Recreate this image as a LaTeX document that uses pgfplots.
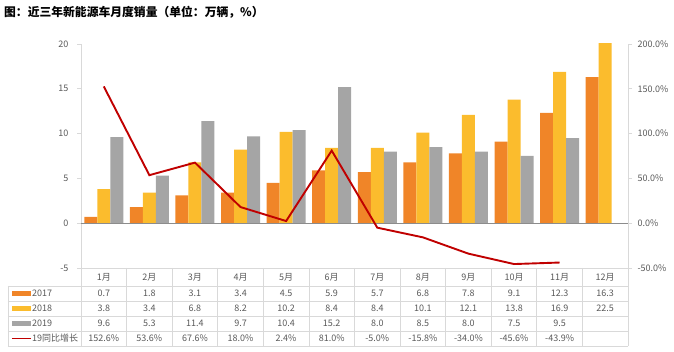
\documentclass[border=0pt]{standalone}
\usepackage{pgfplots}
\pgfplotsset{compat=1.18}
\usepackage{fontspec}
\setmainfont{Noto Sans CJK SC}
\definecolor{c17}{RGB}{240,133,40}
\definecolor{c18}{RGB}{251,188,45}
\definecolor{c19}{RGB}{165,165,165}
\definecolor{linered}{RGB}{192,0,0}
\definecolor{labelgray}{RGB}{89,89,89}
\definecolor{gridgray}{RGB}{217,217,217}
\definecolor{zerogray}{RGB}{140,140,140}
\begin{document}
\begin{tikzpicture}[x=1pt,y=1pt]
\useasboundingbox (-81,-84) rectangle (593,268);
\pgfplotsset{
  common/.style={
    at={(0,0)}, anchor=south west, scale only axis,
    width=547pt, height=224pt,
    xmin=-0.5, xmax=11.5,
    hide x axis,
    tick align=outside, major tick length=4pt,
    ytick style={color=gridgray, line width=0.8pt},
    y axis line style={color=gridgray, line width=0.8pt},
    yticklabel style={font=\fontsize{9}{10}\selectfont, color=labelgray},
    /pgf/number format/assume math mode=true,
  }
}
\begin{axis}[common,
  ymin=-5, ymax=20, ytick={-5,0,...,20},
  axis y line*=left,
  yticklabel style={xshift=-5pt},
  ybar=0pt, bar width=13pt,
]
\addplot[fill=c17, draw=none] coordinates {(0,0.7)(1,1.8)(2,3.1)(3,3.4)(4,4.5)(5,5.9)(6,5.7)(7,6.8)(8,7.8)(9,9.1)(10,12.3)(11,16.3)};
\addplot[fill=c18, draw=none] coordinates {(0,3.8)(1,3.4)(2,6.8)(3,8.2)(4,10.2)(5,8.4)(6,8.4)(7,10.1)(8,12.1)(9,13.8)(10,16.9)(11,22.5)};
\addplot[fill=c19, draw=none] coordinates {(0,9.6)(1,5.3)(2,11.4)(3,9.7)(4,10.4)(5,15.2)(6,8.0)(7,8.5)(8,8.0)(9,7.5)(10,9.5)};
\draw[zerogray, line width=0.9pt] (axis cs:-0.5,0) -- (axis cs:11.5,0);
\end{axis}
\begin{axis}[common,
  ymin=-50, ymax=200, ytick={-50,0,...,200},
  axis y line*=right,
  yticklabel={\pgfmathprintnumber[fixed,fixed zerofill,precision=1]{\tick}\%},
  yticklabel style={xshift=2pt},
]
\addplot[linered, line width=1.9pt, mark=none] coordinates {(0,152.6)(1,53.6)(2,67.6)(3,18.0)(4,2.4)(5,81.0)(6,-5.0)(7,-15.8)(8,-34.0)(9,-45.6)(10,-43.9)};
\end{axis}
% title
\node[anchor=west, font=\fontsize{11.8}{12}\selectfont\bfseries, text=black, inner sep=0pt] at (-77,256) {图：近三年新能源车月度销量（单位：万辆，\%）};
% data table
\def\cw{45.5833}
\begin{scope}[gridgray, line width=0.7pt]
  \draw (0,0) -- (547,0);
  \foreach \yy in {-18,-33,-48,-63,-78} \draw (-73,\yy) -- (547,\yy);
  \foreach \k in {0,...,12} \draw ({\k*\cw},0) -- ({\k*\cw},-78);
  \draw (-73,-18) -- (-73,-78);
\end{scope}
\tikzset{tab/.style={font=\fontsize{9}{10}\selectfont, text=labelgray, inner sep=0pt}}
\foreach \v [count=\i from 0] in {1月,2月,3月,4月,5月,6月,7月,8月,9月,10月,11月,12月}
  \node[tab] at ({(\i+0.5)*\cw},-9.5) {\v};
\foreach \v [count=\i from 0] in {0.7,1.8,3.1,3.4,4.5,5.9,5.7,6.8,7.8,9.1,12.3,16.3}
  \node[tab] at ({(\i+0.5)*\cw},-25.5) {\v};
\foreach \v [count=\i from 0] in {3.8,3.4,6.8,8.2,10.2,8.4,8.4,10.1,12.1,13.8,16.9,22.5}
  \node[tab] at ({(\i+0.5)*\cw},-40.5) {\v};
\foreach \v [count=\i from 0] in {9.6,5.3,11.4,9.7,10.4,15.2,8.0,8.5,8.0,7.5,9.5}
  \node[tab] at ({(\i+0.5)*\cw},-55.5) {\v};
\foreach \v [count=\i from 0] in {152.6,53.6,67.6,18.0,2.4,81.0,-5.0,-15.8,-34.0,-45.6,-43.9}
  \node[tab] at ({(\i+0.5)*\cw},-70.5) {\v\%};
% legend keys
\fill[c17] (-69,-27.8) rectangle (-50,-23.2);
\fill[c18] (-69,-42.8) rectangle (-50,-38.2);
\fill[c19] (-69,-57.8) rectangle (-50,-53.2);
\draw[linered, line width=1.5pt] (-69,-70.5) -- (-50,-70.5);
\node[tab, anchor=west] at (-49,-25.5) {2017};
\node[tab, anchor=west] at (-49,-40.5) {2018};
\node[tab, anchor=west] at (-49,-55.5) {2019};
\node[tab, anchor=west] at (-49,-70.5) {19同比增长};
\end{tikzpicture}
\end{document}
